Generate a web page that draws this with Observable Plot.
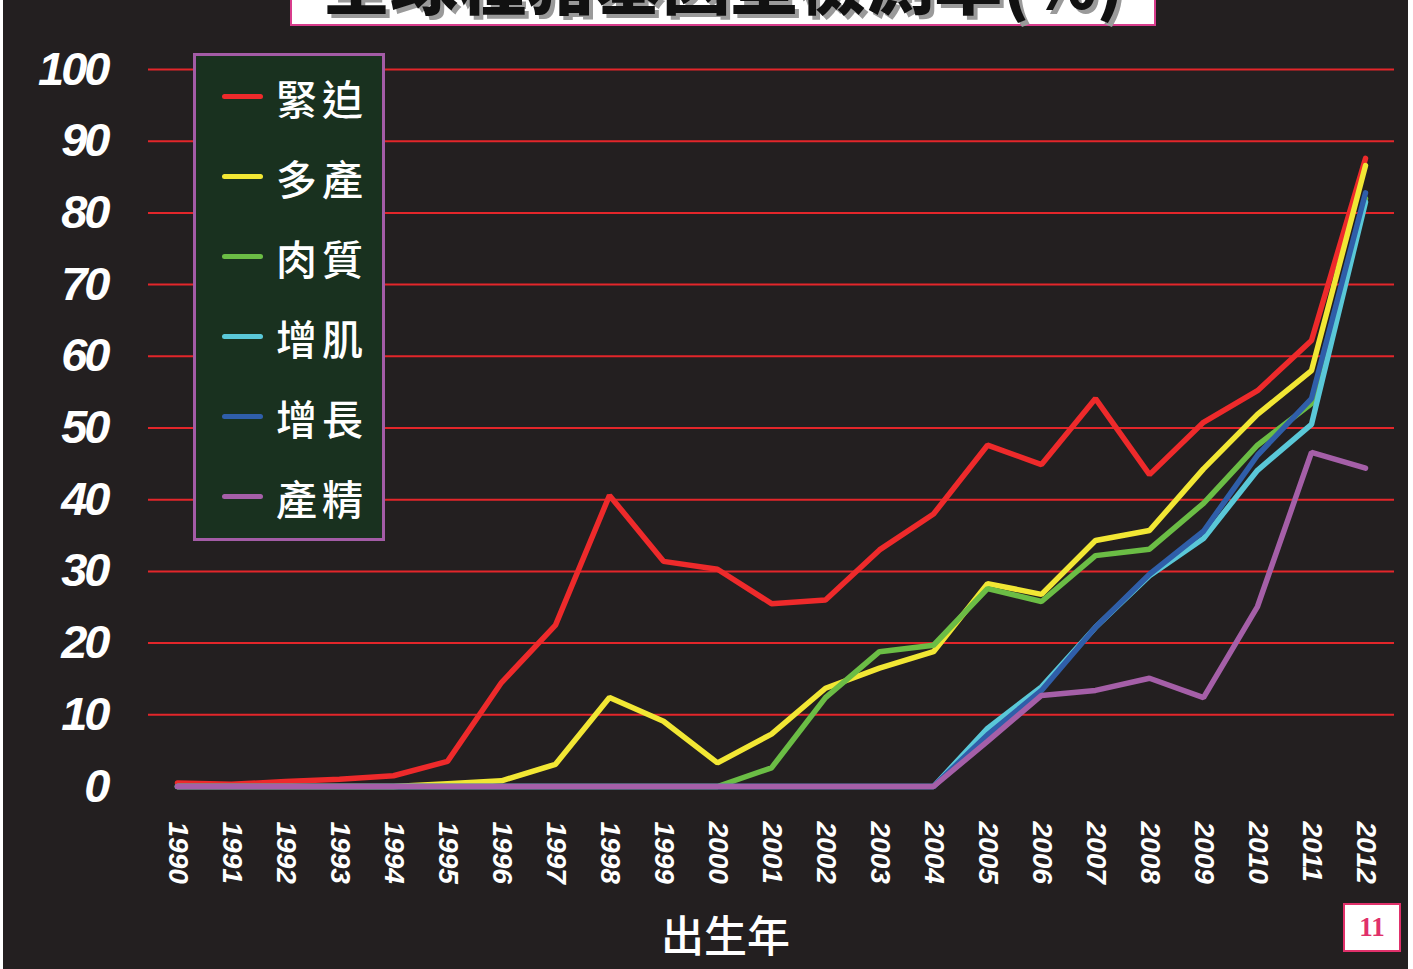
<!DOCTYPE html>
<html>
<head>
<meta charset="utf-8">
<script src="https://cdn.jsdelivr.net/npm/d3@7"></script>
<script src="https://cdn.jsdelivr.net/npm/@observablehq/plot@0.6"></script>
<style>
html, body { margin: 0; padding: 0; background: #ffffff; }
#wrap { position: relative; width: 1413px; height: 969px; overflow: hidden; }
#bg { position: absolute; left: 3px; top: 0; width: 1405px; height: 969px; background: #231f20; }
#chart { position: absolute; left: 0; top: 0; }
#title { position: absolute; left: 290px; top: -64px; width: 866px; height: 90px; box-sizing: border-box;
  background: #fff; border: 2px solid #d83c8c; text-align: center;
  font-family: "Noto Sans CJK TC", sans-serif; font-weight: 900; font-size: 68px; line-height: 84px;
  color: #111; text-shadow: 4px 4px 0 #9a9a9a; white-space: nowrap; }
#legend { position: absolute; left: 193px; top: 53px; width: 192px; height: 488px; box-sizing: border-box;
  background: #19311f; border: 3px solid #a35ca6; }
.sw { position: absolute; left: 26px; width: 41px; height: 5px; border-radius: 3px; }
.lt { position: absolute; left: 80px; font-family: "Noto Sans CJK TC", sans-serif; font-weight: 500; font-size: 41px; line-height: 41px;
  color: #fff; letter-spacing: 5px; white-space: nowrap; }
#pageno { position: absolute; left: 1343px; top: 903px; width: 58px; height: 49px; box-sizing: border-box;
  background: #fff; border: 2px solid #e0306a; color: #e0306a; font-family: "Liberation Serif", serif; font-weight: bold;
  font-size: 27px; line-height: 45px; text-align: center; }
#chart svg g[aria-label="y-axis tick label"] text { letter-spacing: -3px; }
</style>
</head>
<body>
<div id="wrap">
  <div id="bg"></div>
  <div id="chart"></div>
  <div id="title">全球種豬基因型檢測率(%)</div>
  <div id="legend"></div>
  <div id="pageno">11</div>
</div>
<script>
const years = [1990,1991,1992,1993,1994,1995,1996,1997,1998,1999,2000,2001,2002,2003,2004,2005,2006,2007,2008,2009,2010,2011,2012];
const seriesNames = ["緊迫","多產","肉質","增肌","增長","產精"];
const seriesColors = ["#ee2a2b","#f2e734","#6bbd45","#5ac8d8","#2f5ea9","#a55fa8"];

const stressValues   = [0.5,0.3,0.7,1.0,1.5,3.5,14.5,22.5,40.6,31.4,30.3,25.5,26.0,33.0,38.0,47.6,44.9,54.1,43.5,50.8,55.2,62.2,87.6];
const litterValues   = [0,0,0,0,0,0.4,0.8,3.1,12.4,9.1,3.3,7.3,13.7,16.5,18.8,28.3,26.8,34.3,35.7,44.3,51.9,58.0,86.6];
const meatValues     = [0,0,0,0,0,0,0,0,0,0,0,2.6,12.4,18.8,19.7,27.6,25.8,32.2,33.1,39.5,47.6,53.4,82.0];
const muscleValues   = [0,0,0,0,0,0,0,0,0,0,0,0,0,0,0,8.1,13.9,22.2,29.4,34.6,44.1,50.5,81.5];
const growthValues   = [0,0,0,0,0,0,0,0,0,0,0,0,0,0,0,7.2,13.4,22.2,29.6,35.6,46.2,54.1,82.8];
const spermValues    = [0,0,0,0,0,0,0,0,0,0,0,0,0,0,0,6.3,12.7,13.4,15.1,12.4,25.1,46.6,44.4];

const yTicks = [0,10,20,30,40,50,60,70,80,90,100];
const gridTicks = [10,20,30,40,50,60,70,80,90,100];
const xLabel = "出生年";

const seriesValues = [stressValues, litterValues, meatValues, muscleValues, growthValues, spermValues];
const table = [];
seriesNames.forEach((name, i) => {
  years.forEach((yr, j) => table.push({series: name, year: yr, value: seriesValues[i][j]}));
});

const chart = Plot.plot({
  width: 1413,
  height: 969,
  marginLeft: 148,
  marginRight: 19,
  marginTop: 69,
  marginBottom: 183,
  style: {background: "transparent", color: "#ffffff", fontFamily: "'Liberation Sans', Arial, sans-serif", overflow: "visible"},
  x: {type: "point", domain: years, padding: 0.5},
  y: {domain: [0, 100]},
  color: {domain: seriesNames, range: seriesColors},
  marks: [
    Plot.gridY(gridTicks, {stroke: "#e3262a", strokeWidth: 2, strokeOpacity: 1}),
    Plot.axisY(yTicks, {tickSize: 0, tickPadding: 41, fontSize: 47, fontWeight: "bold", fontStyle: "italic", label: null, fill: "#fff"}),
    Plot.axisX(years, {tickSize: 0, tickPadding: 35, tickRotate: 90, fontSize: 28, fontWeight: "bold", fontStyle: "italic", label: null, fill: "#fff", tickFormat: d => String(d)}),
    Plot.line(table, {x: "year", y: "value", z: "series", stroke: "series", strokeWidth: 5.5, strokeLinejoin: "miter", strokeLinecap: "round"}),
    Plot.text([xLabel], {text: d => d, frameAnchor: "bottom", dx: -46, dy: 152, fontSize: 43, fontWeight: 500, fill: "#fff", fontFamily: "'Noto Sans CJK TC', sans-serif", lineAnchor: "middle"})
  ]
});
document.getElementById("chart").appendChild(chart);

const legend = document.getElementById("legend");
seriesNames.forEach((name, i) => {
  const sw = document.createElement("div");
  sw.className = "sw";
  sw.style.background = seriesColors[i];
  sw.style.top = (38 + i * 80) + "px";
  legend.appendChild(sw);
  const lt = document.createElement("div");
  lt.className = "lt";
  lt.textContent = name;
  lt.style.top = (21 + i * 80) + "px";
  legend.appendChild(lt);
});
</script>
</body>
</html>
